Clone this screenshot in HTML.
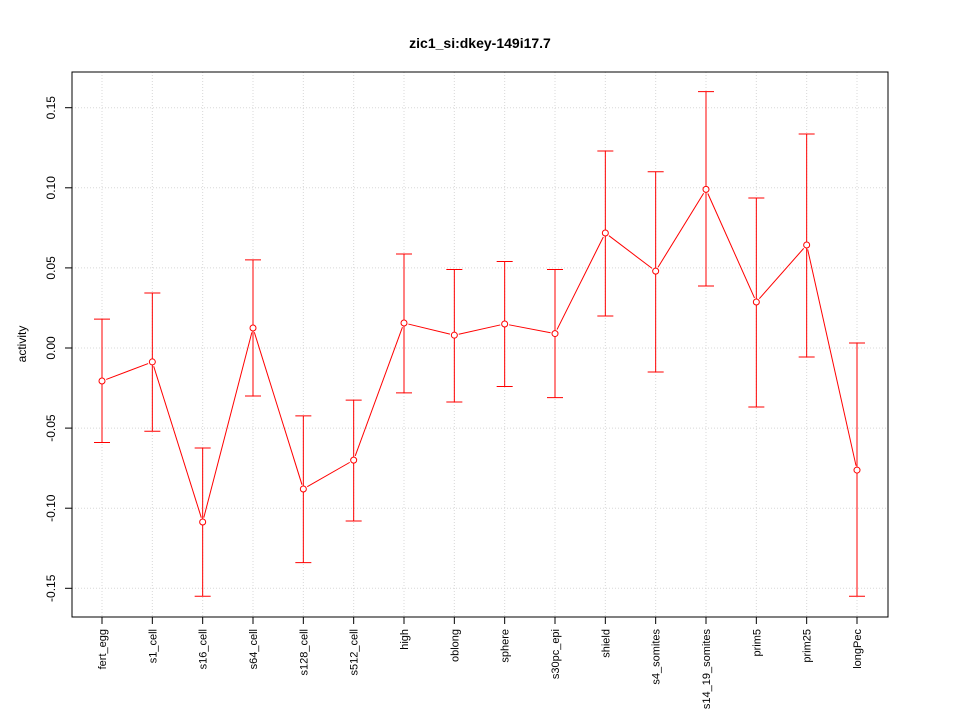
<!DOCTYPE html>
<html><head><meta charset="utf-8"><style>
body{margin:0;background:#fff}
svg{display:block;font-family:"Liberation Sans",Arial,sans-serif}
</style></head><body>
<svg id="chart" width="960" height="720">
<text x="480" y="48" text-anchor="middle" font-size="14" font-weight="bold">zic1_si:dkey-149i17.7</text>
<text transform="translate(26,344) rotate(-90)" text-anchor="middle" font-size="12">activity</text>
<g id="grid"></g><g id="marks"></g><g id="axes"></g>
<rect x="72" y="72" width="816" height="545" fill="none" stroke="#000"/>
</svg>
<script>
const categories=["fert_egg","s1_cell","s16_cell","s64_cell","s128_cell","s512_cell","high","oblong","sphere","s30pc_epi","shield","s4_somites","s14_19_somites","prim5","prim25","longPec"];
const values=[-0.0206,-0.0087,-0.1086,0.0125,-0.088,-0.070,0.0156,0.008,0.015,0.009,0.0718,0.048,0.099,0.0287,0.0643,-0.0762];
const upper=[0.018,0.0343,-0.0624,0.055,-0.0424,-0.0325,0.0587,0.049,0.054,0.049,0.123,0.110,0.160,0.0936,0.1336,0.0031];
const lower=[-0.059,-0.052,-0.155,-0.030,-0.134,-0.108,-0.028,-0.0337,-0.024,-0.031,0.020,-0.015,0.0387,-0.0368,-0.0056,-0.155];
const yTicks=[-0.15,-0.10,-0.05,0.00,0.05,0.10,0.15];
const yTickLabels=["-0.15","-0.10","-0.05","0.00","0.05","0.10","0.15"];
const NS="http://www.w3.org/2000/svg";
const xS=i=>102+i*(857-102)/(categories.length-1);
const yS=v=>348-v*1602;
function mk(tag,attrs,parent){const e=document.createElementNS(NS,tag);for(const k in attrs)e.setAttribute(k,attrs[k]);document.getElementById(parent).appendChild(e);return e;}
yTicks.forEach((t,i)=>{
 const y=yS(t);
 let g=mk("line",{x1:72,x2:888,y1:y,y2:y,stroke:"#d8d8d8","stroke-dasharray":"1,2"},"grid");
 
 
 let tk=mk("line",{x1:65,x2:72,y1:y,y2:y,stroke:"#000"},"axes");
 
 
 let tx=mk("text",{transform:`translate(55,${y}) rotate(-90)`,"text-anchor":"middle","font-size":"12"},"axes");
 tx.textContent=yTickLabels[i];
 
 
});
categories.forEach((c,i)=>{
 const x=xS(i);
 let g=mk("line",{x1:x,x2:x,y1:72,y2:617,stroke:"#d8d8d8","stroke-dasharray":"1,2"},"grid");
 
 
 let tk=mk("line",{x1:x,x2:x,y1:617,y2:624,stroke:"#000"},"axes");
 
 
 let tx=mk("text",{transform:`translate(${x+4},629) rotate(-90)`,"text-anchor":"end","font-size":"11"},"axes");
 tx.textContent=c;
 
 
});
for(let i=0;i<values.length;i++){
 const x=xS(i),yu=yS(upper[i]),yl=yS(lower[i]),y=yS(values[i]);
 let eb=mk("path",{d:`M${x},${yu}V${yl}M${x-8},${yu}H${x+8}M${x-8},${yl}H${x+8}`,stroke:"#f00",fill:"none"},"marks");
 
 
 if(i<values.length-1){
  const x2=xS(i+1),y2=yS(values[i+1]);const dx=x2-x,dy=y2-y,L=Math.hypot(dx,dy),r=4.5;
  let ln=mk("line",{x1:x+dx*r/L,y1:y+dy*r/L,x2:x2-dx*r/L,y2:y2-dy*r/L,stroke:"#f00"},"marks");
  
  
 }
 let p=mk("circle",{cx:x,cy:y,r:3,fill:"#fff",stroke:"#f00"},"marks");
 
 
}
</script>
</body></html>
